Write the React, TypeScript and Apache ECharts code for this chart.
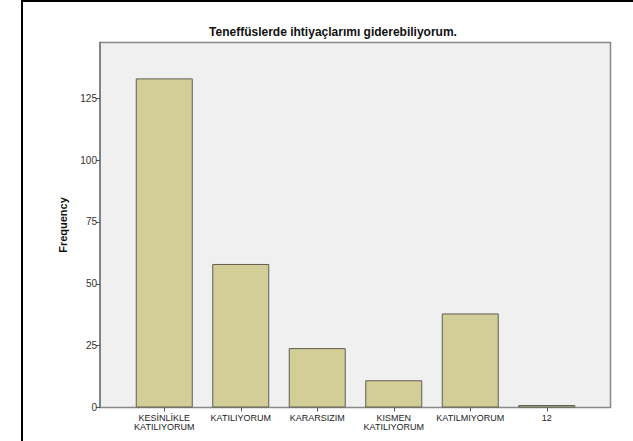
import React, { useEffect, useRef } from "react";
import * as echarts from "echarts";

const categories = [
  "KESİNLİKLE\nKATILIYORUM",
  "KATILIYORUM",
  "KARARSIZIM",
  "KISMEN\nKATILIYORUM",
  "KATILMIYORUM",
  "12",
];
const frequencies = [133, 58, 24, 11, 38, 1];
const yTicks = [0, 25, 50, 75, 100, 125];
const title = "Teneffüslerde ihtiyaçlarımı giderebiliyorum.";
const yName = "Frequency";

export default function App() {
  const ref = useRef<HTMLDivElement>(null);
  useEffect(() => {
    if (!ref.current) return;
    const chart = echarts.init(ref.current, null, { renderer: "svg" });
    const font = "'Liberation Sans', Arial, sans-serif";
    chart.setOption({
      animation: false,
      backgroundColor: "#ffffff",
      textStyle: { fontFamily: font },
      title: {
        text: title,
        left: 328,
        textAlign: "center",
        top: 21,
        textStyle: { fontSize: 12, fontWeight: "bold", color: "#111", fontFamily: font },
      },
      graphic: [
        {
          type: "rect",
          shape: { x: 22, y: 1, width: 640, height: 480 },
          style: { fill: "none", stroke: "#000", lineWidth: 2 },
          silent: true,
          z: 100,
        },
      ],
      grid: [
        {
          left: 100,
          right: 22.5,
          top: 42.5,
          bottom: 33.5,
          show: true,
          backgroundColor: "#f0f0f0",
          borderColor: "#888",
          borderWidth: 1.5,
        },
        {
          left: 126,
          width: 459,
          top: 42.5,
          bottom: 33.5,
        },
      ],
      xAxis: [
        { type: "value", gridIndex: 0, show: false, min: 0, max: 1 },
        {
          type: "category",
          gridIndex: 1,
          data: categories,
          axisLine: { show: false },
          axisTick: { show: true, length: 4, alignWithLabel: true, lineStyle: { color: "#555" } },
          axisLabel: {
            interval: 0,
            fontSize: 9,
            lineHeight: 9,
            color: "#222",
            margin: 6,
            fontFamily: font,
          },
        },
      ],
      yAxis: [
        {
          type: "value",
          gridIndex: 0,
          min: 0,
          max: 147.5,
          splitLine: { show: false },
          axisLine: { show: true, lineStyle: { color: "#777", width: 1.5 } },
          axisTick: { show: true, length: 4, customValues: yTicks, lineStyle: { color: "#555" } },
          axisLabel: {
            customValues: yTicks,
            fontSize: 10,
            color: "#333",
            margin: 3,
            fontFamily: font,
          },
          name: yName,
          nameLocation: "middle",
          nameGap: 32,
          nameTextStyle: { fontSize: 11, fontWeight: "bold", color: "#111", fontFamily: font },
        },
        { type: "value", gridIndex: 1, min: 0, max: 147.5, show: false },
      ],
      series: [
        {
          type: "bar",
          xAxisIndex: 1,
          yAxisIndex: 1,
          data: frequencies,
          barWidth: 57,
          itemStyle: { color: "#d3ce98", borderColor: "#5e5e50", borderWidth: 1 },
        },
      ],
    });
    return () => chart.dispose();
  }, []);
  return <div ref={ref} style={{ position: "fixed", left: 0, top: 0, width: 633, height: 441 }} />;
}
